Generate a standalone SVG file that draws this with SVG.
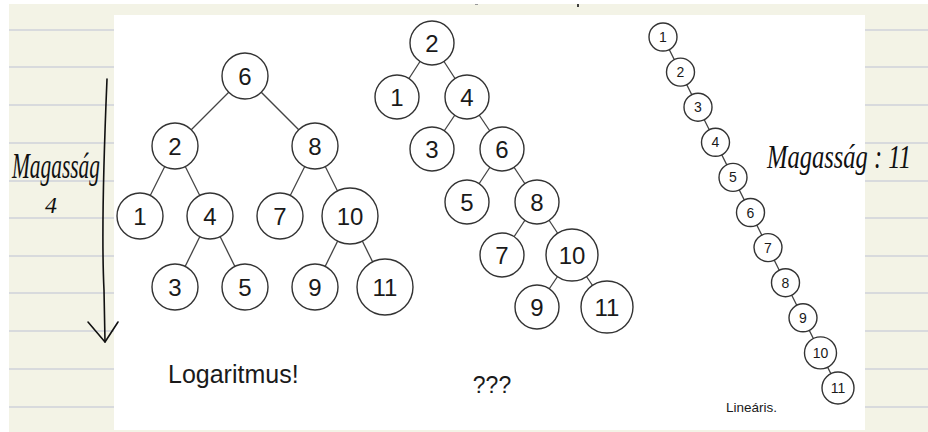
<svg xmlns="http://www.w3.org/2000/svg" width="928" height="432" viewBox="0 0 928 432">
<style>
.rule{stroke:#cfd2da;stroke-width:1.6}
.edge{stroke:#444;stroke-width:1.3;fill:none}
.n circle{fill:#fff;stroke:#333;stroke-width:1.4}
.n text{font-family:"Liberation Sans",Arial,sans-serif;fill:#1a1a1a;text-anchor:middle}
.big text{font-size:24px}
.small text{font-size:14px}
.lbl{font-family:"Liberation Sans",Arial,sans-serif;fill:#1a1a1a}
.hand{font-family:"Liberation Serif","DejaVu Serif",serif;font-style:italic;fill:#111}
.ink{stroke:#111;stroke-width:1.6;fill:none;stroke-linecap:round;stroke-linejoin:round}
</style>
<rect x="0" y="0" width="928" height="432" fill="#fff"/>
<rect x="9" y="4" width="919" height="428" fill="#f3f3e6"/>
<g id="rules">
<line class="rule" x1="9" y1="30" x2="928" y2="30"/>
<line class="rule" x1="9" y1="67" x2="928" y2="67"/>
<line class="rule" x1="9" y1="105" x2="928" y2="105"/>
<line class="rule" x1="9" y1="143" x2="928" y2="143"/>
<line class="rule" x1="9" y1="181" x2="928" y2="181"/>
<line class="rule" x1="9" y1="218" x2="928" y2="218"/>
<line class="rule" x1="9" y1="256" x2="928" y2="256"/>
<line class="rule" x1="9" y1="293" x2="928" y2="293"/>
<line class="rule" x1="9" y1="331" x2="928" y2="331"/>
<line class="rule" x1="9" y1="369" x2="928" y2="369"/>
<line class="rule" x1="9" y1="407" x2="928" y2="407"/>
</g>
<rect x="114" y="15" width="751" height="415" fill="#fff"/>
<line x1="475" y1="4.5" x2="478" y2="4.5" stroke="#999" stroke-width="1"/>
<line x1="578" y1="4" x2="578" y2="7" stroke="#111" stroke-width="1.6"/>

<g id="connectors">
<line class="edge" x1="245" y1="76" x2="175" y2="146"/>
<line class="edge" x1="245" y1="76" x2="315" y2="146"/>
<line class="edge" x1="175" y1="146" x2="140" y2="216"/>
<line class="edge" x1="175" y1="146" x2="210" y2="216"/>
<line class="edge" x1="210" y1="216" x2="175" y2="287"/>
<line class="edge" x1="210" y1="216" x2="245" y2="287"/>
<line class="edge" x1="315" y1="146" x2="280" y2="216"/>
<line class="edge" x1="315" y1="146" x2="350" y2="216"/>
<line class="edge" x1="350" y1="216" x2="315" y2="287"/>
<line class="edge" x1="350" y1="216" x2="385" y2="287"/>

<line class="edge" x1="432" y1="43" x2="397" y2="97"/>
<line class="edge" x1="432" y1="43" x2="467" y2="97"/>
<line class="edge" x1="467" y1="97" x2="432" y2="149"/>
<line class="edge" x1="467" y1="97" x2="502" y2="149"/>
<line class="edge" x1="502" y1="149" x2="467" y2="202"/>
<line class="edge" x1="502" y1="149" x2="537" y2="202"/>
<line class="edge" x1="537" y1="202" x2="502" y2="255"/>
<line class="edge" x1="537" y1="202" x2="572" y2="255"/>
<line class="edge" x1="572" y1="255" x2="537" y2="307"/>
<line class="edge" x1="572" y1="255" x2="607" y2="307"/>

<polyline class="edge" points="663,37 680.5,72.1 698,107.2 715.5,142.3 733,177.4 750.5,212.5 768,247.6 785.5,282.7 803,317.8 820.5,352.9 838,388"/>
</g>

<g id="tree1" class="n big">
<g id="t1n6"><circle cx="245" cy="76" r="23"/><text x="245" y="84.5">6</text></g>
<g id="t1n2"><circle cx="175" cy="146" r="23"/><text x="175" y="154.5">2</text></g>
<g id="t1n8"><circle cx="315" cy="146" r="23"/><text x="315" y="154.5">8</text></g>
<g id="t1n1"><circle cx="140" cy="216" r="23"/><text x="140" y="224.5">1</text></g>
<g id="t1n4"><circle cx="210" cy="216" r="23"/><text x="210" y="224.5">4</text></g>
<g id="t1n7"><circle cx="280" cy="216" r="23"/><text x="280" y="224.5">7</text></g>
<g id="t1n10"><circle cx="350" cy="216" r="28"/><text x="350" y="224.5">10</text></g>
<g id="t1n3"><circle cx="175" cy="287" r="23"/><text x="175" y="295.5">3</text></g>
<g id="t1n5"><circle cx="245" cy="287" r="23"/><text x="245" y="295.5">5</text></g>
<g id="t1n9"><circle cx="315" cy="287" r="23"/><text x="315" y="295.5">9</text></g>
<g id="t1n11"><circle cx="385" cy="287" r="28"/><text x="385" y="295.5">11</text></g>
</g>

<g id="tree2" class="n big">
<g id="t2n2"><circle cx="432" cy="43" r="22"/><text x="432" y="51.5">2</text></g>
<g id="t2n1"><circle cx="397" cy="97" r="22"/><text x="397" y="105.5">1</text></g>
<g id="t2n4"><circle cx="467" cy="97" r="22"/><text x="467" y="105.5">4</text></g>
<g id="t2n3"><circle cx="432" cy="149" r="22"/><text x="432" y="157.5">3</text></g>
<g id="t2n6"><circle cx="502" cy="149" r="22"/><text x="502" y="157.5">6</text></g>
<g id="t2n5"><circle cx="467" cy="202" r="22"/><text x="467" y="210.5">5</text></g>
<g id="t2n8"><circle cx="537" cy="202" r="22"/><text x="537" y="210.5">8</text></g>
<g id="t2n7"><circle cx="502" cy="255" r="22"/><text x="502" y="263.5">7</text></g>
<g id="t2n10"><circle cx="572" cy="255" r="26"/><text x="572" y="263.5">10</text></g>
<g id="t2n9"><circle cx="537" cy="307" r="22"/><text x="537" y="315.5">9</text></g>
<g id="t2n11"><circle cx="607" cy="307" r="26"/><text x="607" y="315.5">11</text></g>
</g>

<g id="tree3" class="n small">
<g id="t3n1"><circle cx="663" cy="37" r="14"/><text x="663" y="42">1</text></g>
<g id="t3n2"><circle cx="680.5" cy="72.1" r="14"/><text x="680.5" y="77.1">2</text></g>
<g id="t3n3"><circle cx="698" cy="107.2" r="14"/><text x="698" y="112.2">3</text></g>
<g id="t3n4"><circle cx="715.5" cy="142.3" r="14"/><text x="715.5" y="147.3">4</text></g>
<g id="t3n5"><circle cx="733" cy="177.4" r="14"/><text x="733" y="182.4">5</text></g>
<g id="t3n6"><circle cx="750.5" cy="212.5" r="14"/><text x="750.5" y="217.5">6</text></g>
<g id="t3n7"><circle cx="768" cy="247.6" r="14"/><text x="768" y="252.6">7</text></g>
<g id="t3n8"><circle cx="785.5" cy="282.7" r="14"/><text x="785.5" y="287.7">8</text></g>
<g id="t3n9"><circle cx="803" cy="317.8" r="14"/><text x="803" y="322.8">9</text></g>
<g id="t3n10"><circle cx="820.5" cy="352.9" r="16"/><text x="820.5" y="357.9">10</text></g>
<g id="t3n11"><circle cx="838" cy="388" r="16"/><text x="838" y="393">11</text></g>
</g>

<g id="labels">
<text class="lbl" x="168" y="383" font-size="25">Logaritmus!</text>
<text class="lbl" x="492" y="393" font-size="23" text-anchor="middle">???</text>
<text class="lbl" x="726" y="412" font-size="13.5">Lineáris.</text>
</g>

<g id="annotations">
<text class="hand" x="12" y="178" font-size="36" textLength="88" lengthAdjust="spacingAndGlyphs">Magasság</text>
<text class="hand" x="51" y="213" font-size="24" text-anchor="middle">4</text>
<text class="hand" x="767" y="168" font-size="33" textLength="144" lengthAdjust="spacingAndGlyphs">Magasság : 11</text>
<path class="ink" d="M107,79 C104,150 101,230 104,290 L105,342"/>
<path class="ink" d="M88,322 L105,342 L118,322"/>
</g>
</svg>
